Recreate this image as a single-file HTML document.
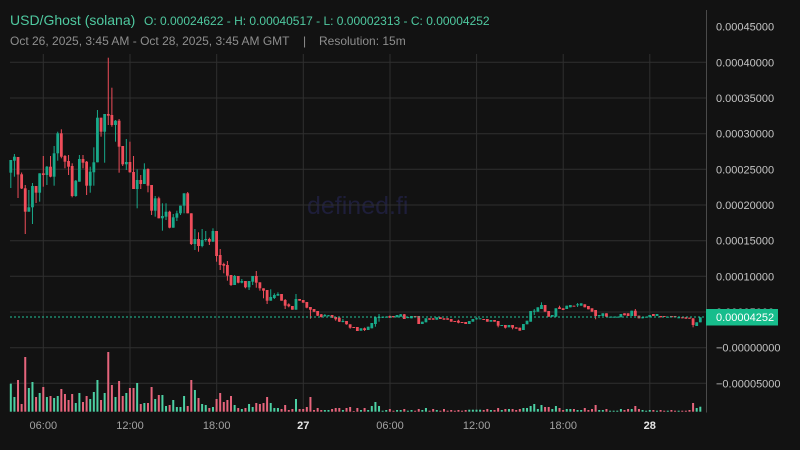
<!DOCTYPE html>
<html>
<head>
<meta charset="utf-8">
<style>
html,body{margin:0;padding:0;background:#121212;}
body{width:800px;height:450px;overflow:hidden;position:relative;font-family:"Liberation Sans",sans-serif;}
#c{position:absolute;left:0;top:0;}
</style>
</head>
<body>
<svg id="c" width="800" height="450" viewBox="0 0 800 450" xmlns="http://www.w3.org/2000/svg">
<rect x="0" y="0" width="800" height="450" fill="#121212"/>
<text x="307" y="214" font-family="Liberation Sans, sans-serif" font-size="25" fill="#1e1e3a">defined.fi</text>
<g id="grid" stroke="#2f2f2f" stroke-width="1"></g>
<g id="vol"></g>
<g id="cand"></g>
<line x1="10" y1="317" x2="706" y2="317" stroke="#22c49a" stroke-width="1" stroke-dasharray="2,2"/>
<line x1="706.5" y1="10" x2="706.5" y2="412.5" stroke="#4a4a4a" stroke-width="1"/>
<g id="ylab" font-family="Liberation Sans, sans-serif" font-size="11" fill="#c4c4c4"></g>
<rect x="706" y="309" width="72" height="16.5" fill="#17bd8c"/>
<text x="716" y="321" font-family="Liberation Sans, sans-serif" font-size="11" fill="#ffffff">0.00004252</text>
<g font-family="Liberation Sans, sans-serif" font-size="11" fill="#a3a3a3" text-anchor="middle">
<text x="43.3" y="429">06:00</text>
<text x="130" y="429">12:00</text>
<text x="216.7" y="429">18:00</text>
<text x="303.3" y="429" font-weight="bold" fill="#e6e6e6">27</text>
<text x="390" y="429">06:00</text>
<text x="476.6" y="429">12:00</text>
<text x="563.2" y="429">18:00</text>
<text x="649.8" y="429" font-weight="bold" fill="#e6e6e6">28</text>
</g>
<text x="10" y="25" font-family="Liberation Sans, sans-serif" font-size="14" fill="#4fc9a0">USD/Ghost (solana)</text>
<text x="144" y="25" font-family="Liberation Sans, sans-serif" font-size="12" fill="#4fc9a0">O: 0.00024622 - H: 0.00040517 - L: 0.00002313 - C: 0.00004252</text>
<text x="10" y="45" font-family="Liberation Sans, sans-serif" font-size="12" fill="#8e8e8e">Oct 26, 2025, 3:45 AM - Oct 28, 2025, 3:45 AM GMT</text>
<text x="303" y="45" font-family="Liberation Sans, sans-serif" font-size="12" fill="#8e8e8e">|</text>
<text x="319" y="45" font-family="Liberation Sans, sans-serif" font-size="12" fill="#8e8e8e">Resolution: 15m</text>
</svg>
<script>
(function(){
var C=[[172.7,160,160,188],[160.7,156.7,154,176.7],[157,174.5,157,198],[174.3,188.5,172.5,189],[188.3,211.7,185,234],[211.7,207.3,190,211.7],[207.3,186,183,224],[186,192.7,186,203],[192.7,173.3,173.3,201.7],[173.3,175,156,186.7],
[175,166.7,166,185],[166.7,176.7,156,177.3],[176.7,153.3,146,185.7],[153.3,133.3,131.7,160.7],[133.3,156.7,129.3,158.3],[156,161.7,155,168.3],[161,166.7,155,175],[166,196,163.3,197.3],[196,180.7,180,196.7],[181.7,159,155,181.7],
[159,162.7,155,168.3],[161.7,185.7,161,195],[185.7,171.7,166.7,192.7],[172.3,162.3,147.3,185.7],[162.3,117.7,110,162.3],[117.7,131.7,117.7,136.7],[131.7,114,114,162.7],[114,115.7,57.7,125],[115,125,87.7,126.7],[125,120.7,120,141.7],
[120.7,146.7,119,172.7],[146,164.3,146,166],[164.3,162,139,170],[162,172.3,141.7,172.7],[172,189,156,189],[189,180,169.3,208.3],[180,184,175,189],[184,169.3,163.3,184],[169,185.7,168.3,192.3],[185,210.7,185,215],
[210.7,198.3,196,216.7],[198.3,218.3,196.7,218.3],[218.3,216,203.3,230.7],[216.7,211.7,203.3,220],[211.7,227.7,210.7,228.3],[227.7,217.3,214,227.7],[217.7,213.3,210.7,221],[213.3,205.7,205.7,215],[205.7,193.3,193.3,213.3],[193.3,213.3,192,213.3],
[213.3,244,213.3,245],[244,239,229,250],[239,246,232.3,251.7],[246,240,229,247.3],[240,239,231,241.7],[239,241.7,237.7,245],[241.7,231,228.3,241.7],[231,256,231,261.7],[255,265,249,270],[264,265.7,262.7,273.3],
[265,275.7,261,280.7],[275,285,275,286],[285,276,275,285],[276,282.7,276,283.3],[282.7,281,279,283.3],[281,287.3,281,288.3],[287.3,281,281,290],[281.7,276,276,285],[276,282.7,271,287.7],[282.3,288.3,282.3,290.7],
[288.3,290.7,288.3,298.3],[290,300.7,290,304],[300.7,297,289.3,300.7],[298,295,293.3,299],[295.7,294,292.3,295.7],[294,300.7,294,300.7],[300,305.7,299,309],[304.3,306.3,303.3,307.3],[306,309.7,306,309.7],[309.7,299,294,309.7],
[299,300.7,299,300.7],[300,302.7,300,302.7],[302,307.7,302,308.3],[307,309.7,307,318.7],[309,311.7,309,312],[311,315.7,311,316],[314.3,317,314,317.5],[316,315,314,317],[316,315.3,315,316.3],[315,317.7,315,318],
[317,319.3,317,320.7],[317.7,321.7,317.7,322],[321.7,321,319,322.3],[321,324.3,321,324.7],[324.3,327.7,324.3,328.7],[327,327.7,327,328],[327,331,327,331],[330.7,328.3,328.3,330.7],[328.3,330,327.5,331],[330,326.7,326.7,330],
[328.3,323,323,328.3],[324,317.3,317.3,326.7],[318,317,314,321.7],[317.7,316.7,316.5,318],[317.3,316.7,316.3,317.5],[316,317.7,315.5,318],[316,317.3,316,317.5],[317.3,315,315,317.3],[316.7,314.3,314,316.7],[314.3,319,314,319],
[318,317,316.7,318.3],[318.3,316,316,318.3],[316,317.3,316,317.5],[316,324,316,324],[324,321.7,321.7,324],[322.3,318.3,318.3,322.3],[318.3,319.7,318.3,319.7],[318.3,319.7,318.3,319.7],[319.7,317.3,317.3,319.7],[317.3,319,317.3,319],
[318.3,319.7,318.3,319.7],[318.3,319.7,318.3,319.7],[319,321.7,319,321.7],[321,322,321,322],[320.7,322.7,319.7,323.3],[322,323,322,323],[322,324,322,324],[324,321,321,324],[321.7,319,319,321.7],[319,318.3,317.3,319.7],
[319,318.3,318.3,319],[319,319.7,319,319.7],[319,321.7,319,321.7],[321.7,320,320,321.7],[320,321.7,320,321.7],[321,325.7,321,327.3],[325.7,325,325,325.7],[325,327.7,325,328.5],[327.3,325,325,327.3],[325,327.7,325,329.3],
[327.3,328.7,327.3,328.7],[327.7,330.7,327.7,330.7],[330,324,324,330],[324.3,320.7,320.7,324.3],[321.7,311,311,321.7],[311.7,310.7,309,315],[311.7,307.3,307.3,311.7],[309,305,302.3,309],[305,311.7,305,311.7],[311,316.7,311,316.7],
[316.7,315,315,316.7],[316.7,308.3,308.3,316.7],[307.3,309,305.7,309],[308.3,310,308.3,310],[309,305.7,305.7,309],[307.3,305,305,307.3],[305.7,306.3,305.7,306.3],[305.3,304.3,303,307],[305.7,303.3,303.3,305.7],[304.3,307.3,304.3,307.3],
[306,309.3,306,309.3],[308.3,311.7,308.3,311.7],[310,316,310,319.3],[316,315,315,316],[316,313.3,313.3,316],[313.3,316.7,313.3,316.7],[317.3,316.7,316.7,317.3],[317.3,316.7,316.7,317.3],[317.3,316.7,316.7,317.3],[317.3,314,314,317.3],
[313.3,315.3,313.3,315.3],[313.3,316,313.3,316],[316,310.7,310.7,316],[310.7,316,309,316],[315.7,318.3,315.7,318.3],[318.3,317.3,317.3,318.3],[317.3,316.7,316.7,317.3],[317.3,315,315,317.3],[314,316,314,316],[316,314,314,316],
[316,317.3,316,317.3],[316,316.7,316,316.7],[317,316.7,316.7,317],[316,317.3,316,317.3],[316,317.3,316,317.3],[317.7,317.3,317.3,317.7],[317.3,318.3,317.3,318.3],[317.3,318.7,317.3,318.7],[317.7,318.7,317.7,318.7],[318.3,325,318.3,327.3],
[326,322.3,322.3,326],[322.3,317.3,317.3,322.3]];
var V=[28,14.7,31.7,7.7,54.7,23.7,29.7,14.7,18.7,24.7,14.7,15.7,13.7,15.7,22.7,17.7,11.7,17.7,8.7,18.7,
9.7,15.7,12.7,19.7,31.7,11.7,18.7,59.7,26.7,14.7,30.7,15.7,18.7,23.7,23.7,28.7,7.7,8.7,8.7,24.7,
12.7,16.7,16.7,5.7,6.7,11.7,4.7,4.7,15.7,5.7,31.7,21.7,13.7,7.7,6.7,3.7,4.7,12.7,18.7,9.7,
11.7,15.7,6.7,3.7,2.7,3.7,7.7,4.7,8.7,7.7,8.7,14.7,8.7,3.7,3.7,2.7,6.7,1.7,2.7,12.7,
2.7,2.7,4.7,14.7,1.7,3.7,1.7,1.7,1.7,2.7,3.7,3.7,1.7,3.7,4.7,0.7,3.7,1.7,3.7,1.7,
5.7,9.7,5.7,1,1.7,2.7,1,1.7,1.7,2.7,1,1.7,1,2.7,1.7,3.7,1,2.7,1.7,1,
2.7,1,1.7,1,1.7,1,1.7,2,2,2,2,1.7,2.7,1.7,1.7,3.7,1.7,2.7,2.7,2.7,
1.7,2.7,3.7,3.7,5.7,7.7,2.7,6.7,4.7,4.7,2.7,5.7,3.7,1.7,2.7,2.7,2.7,1.7,1.7,3.7,
1.7,2.7,6.7,1.7,1.7,2.7,1,1,1,2.7,1.7,2.7,2.7,5.7,2.7,1.7,1,1.7,1.7,1,
1.7,1,1,1.7,1,1,1,1,1.7,8.7,3.7,5];
var NS="http://www.w3.org/2000/svg";
function el(p,t,a){var e=document.createElementNS(NS,t);for(var k in a)e.setAttribute(k,a[k]);p.appendChild(e);return e;}
var grid=document.getElementById('grid');
var gy=[62.3,98,133.7,169.3,205,240.7,276.3,312,347.7,383.3];
gy.forEach(function(y){el(grid,'line',{x1:10,x2:706,y1:y,y2:y});});
[43.3,130,216.7,303.3,390,476.6,563.2,649.8].forEach(function(x){el(grid,'line',{x1:x,x2:x,y1:54,y2:412});});
var yl=document.getElementById('ylab');
var labs=["0.00045000","0.00040000","0.00035000","0.00030000","0.00025000","0.00020000","0.00015000","0.00010000","0.00005000","\u22120.00000000","\u22120.00005000"];
labs.forEach(function(s,i){var y=26.6+35.67*i;var t=el(yl,'text',{x:716,y:(y+4).toFixed(1)});t.textContent=s;});
var vol=document.getElementById('vol'),cand=document.getElementById('cand');
for(var i=0;i<C.length;i++){
  var x=10.8+3.61*i,d=C[i],o=d[0],c=d[1],h=d[2],l=d[3];
  var up=c<o||(c==o&&i%2==0);
  var col=up?'#18a98a':'#ef4d5a';
  el(cand,'rect',{x:(x-0.5).toFixed(2),y:h,width:1,height:Math.max(0.8,l-h),fill:col});
  var by=Math.min(o,c),bh=Math.max(1,Math.abs(o-c));
  el(cand,'rect',{x:(x-1.4).toFixed(2),y:by.toFixed(2),width:2.8,height:bh.toFixed(2),fill:col});
  var vh=V[i]||1;
  el(vol,'rect',{x:(x-1).toFixed(2),y:(411.7-vh).toFixed(2),width:2,height:vh,fill:up?'#4ccfa3':'#e6657c'});
}
})();
</script>
</body>
</html>
